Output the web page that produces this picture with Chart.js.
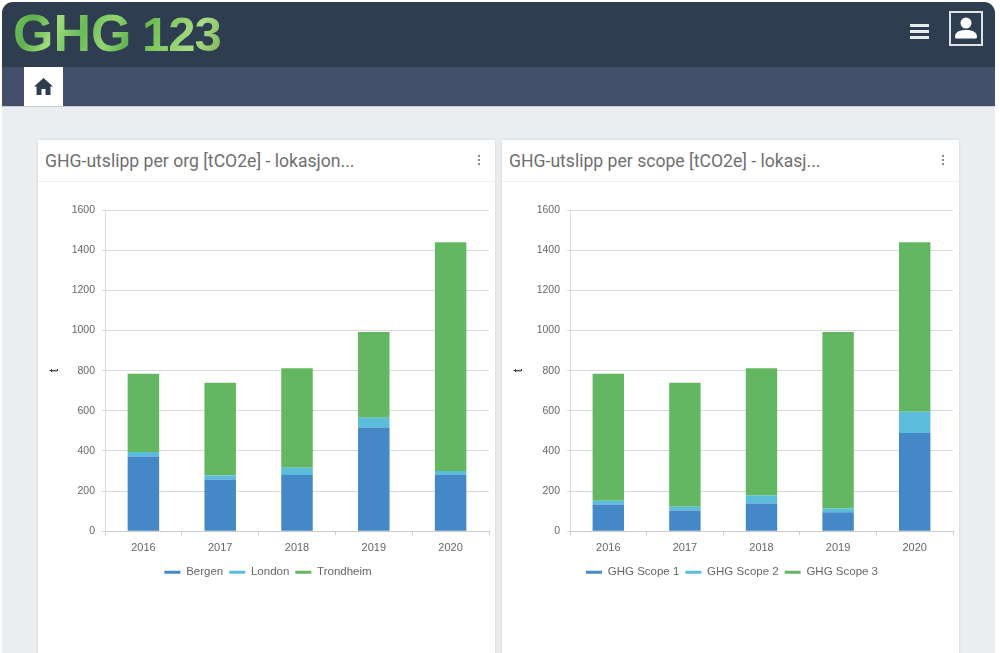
<!DOCTYPE html>
<html>
<head>
<meta charset="utf-8">
<script src="https://cdn.jsdelivr.net/npm/chart.js@4"></script>
<style>
html, body { margin: 0; padding: 0; }
body { width: 1000px; height: 653px; overflow: hidden; background: #fff; position: relative; font-family: Roboto, sans-serif; }
.page { position: absolute; left: 2px; top: 2px; width: 993px; height: 651px; background: #ebeef1; border-radius: 11px 11px 0 0; overflow: hidden; }
.topbar { position: absolute; left: 0; top: 0; width: 100%; height: 65px; background: #2e3d4f; }
.subbar { position: absolute; left: 0; top: 65px; width: 100%; height: 39px; background: #434f6b; border-bottom: 1px solid #c9cdd2; }
.logo { position: absolute; left: 11px; top: 1px; width: 215px; white-space: nowrap; font: bold 52px/60px "Liberation Sans", sans-serif; word-spacing: -4px;
  background: linear-gradient(115deg, #74c75a 0, #5fb04e 12%, #a0dc7c 22%, #68bb57 34%, #94d571 45%, #60b04f 55%, #84ca61 68%, #a9dc88 82%, #72a840 100%);
  -webkit-background-clip: text; background-clip: text; color: transparent; }
.logo span { font-size: 49px; letter-spacing: -1px; }
.tab { position: absolute; left: 22px; top: 65px; width: 39px; height: 39px; background: #fff; }
.tab svg { position: absolute; left: 10px; top: 11px; }
.burger { position: absolute; left: 908px; top: 22px; width: 19px; }
.burger div { height: 3px; background: #e8ebee; margin-bottom: 3px; }
.user { position: absolute; left: 947px; top: 9px; width: 30px; height: 31px; border: 2px solid #dfe3e6; }
.card { position: absolute; top: 138px; width: 457px; height: 520px; background: #fff; box-shadow: 0 0 3px rgba(0,0,0,.12); }
.card h3 { margin: 0; height: 42px; line-height: 43px; padding-left: 7px; font-weight: 400; font-size: 17.6px; color: #6f6f6f; border-bottom: 1px solid #eceeef; box-sizing: border-box; }
.dots { position: absolute; right: 15px; top: 15px; width: 2px; }
.dots div { width: 2px; height: 2px; background: #8a8a8a; margin-bottom: 2px; }
.chartbox { position: absolute; left: 0; top: 42px; width: 457px; height: 406px; }
</style>
</head>
<body>
<div class="page">
  <div class="topbar">
    <div class="logo">GHG <span>123</span></div>
    <div class="burger"><div></div><div></div><div></div></div>
    <div class="user">
      <svg width="30" height="31" viewBox="0 0 30 31"><circle cx="15" cy="10" r="5.5" fill="#fff"/><path d="M4 24c0-6 6-7 11-7s11 1 11 7c0 1-1 1.500-2 1.500H6c-1 0-2-.5-2-1.500z" fill="#fff"/></svg>
    </div>
  </div>
  <div class="subbar"></div>
  <div class="tab">
    <svg width="19" height="17" viewBox="0 0 19 17"><path d="M9.500 0 L19 8.500 L16.500 8.500 L16.500 17 L11.500 17 L11.500 11 L7.500 11 L7.500 17 L2.500 17 L2.500 8.500 L0 8.500 Z" fill="#2e3d4f"/></svg>
  </div>
  <div class="card" style="left:36px">
    <h3>GHG-utslipp per org [tCO2e] - lokasjon...</h3>
    <div class="dots"><div></div><div></div><div></div></div>
    <div class="chartbox"><canvas id="orgChart"></canvas></div>
  </div>
  <div class="card" style="left:500px">
    <h3>GHG-utslipp per scope [tCO2e] - lokasj...</h3>
    <div class="dots"><div></div><div></div><div></div></div>
    <div class="chartbox"><canvas id="scopeChart"></canvas></div>
  </div>
</div>
<script>
const years = ['2016', '2017', '2018', '2019', '2020'];

const bergen = [372, 258, 280, 517, 280];
const london = [23, 20, 37, 48, 20];
const trondheim = [390, 462, 495, 428, 1140];

const scope1 = [133, 103, 138, 95, 490];
const scope2 = [19, 19, 40, 18, 105];
const scope3 = [633, 618, 634, 880, 845];

const BLUE = '#4488c7';
const LIGHT = '#5bbcdc';
const GREEN = '#63b763';

function dataset(label, values, color) {
    return {
        label: label,
        data: values,
        backgroundColor: color,
        borderWidth: 0,
        barPercentage: 0.41,
        categoryPercentage: 1
    };
}

function makeChart(id, series, plotLeft) {
    new Chart(document.getElementById(id), {
        type: 'bar',
        data: { labels: years, datasets: series },
        options: {
            responsive: true,
            maintainAspectRatio: false,
            animation: false,
            layout: { padding: { top: 28, right: 6, left: 9, bottom: 0 } },
            plugins: {
                tooltip: { enabled: false },
                legend: {
                    position: 'bottom',
                    labels: {
                        boxWidth: 16,
                        boxHeight: 3,
                        padding: 6,
                        color: '#666',
                        font: { family: 'Liberation Sans', size: 11.5 }
                    }
                }
            },
            scales: {
                x: {
                    stacked: true,
                    grid: { drawOnChartArea: false, color: '#ccc', tickLength: 4 },
                    border: { color: '#ccc' },
                    ticks: { color: '#666', font: { family: 'Liberation Sans', size: 11 }, padding: 6 }
                },
                y: {
                    stacked: true,
                    min: 0,
                    max: 1600,
                    afterFit: function(scale) { scale.width = plotLeft; },
                    grid: { color: '#d9d9d9', tickLength: 3 },
                    border: { color: '#dcdcdc' },
                    title: { display: true, text: 't', color: '#111', font: { family: 'Liberation Sans', size: 12 }, padding: 0 },
                    ticks: {
                        stepSize: 200,
                        color: '#666',
                        font: { family: 'Liberation Sans', size: 10.5 },
                        padding: 7,
                        callback: function(value) { return String(value); }
                    }
                }
            }
        }
    });
}

makeChart('orgChart', [
    dataset('Bergen', bergen, BLUE),
    dataset('London', london, LIGHT),
    dataset('Trondheim', trondheim, GREEN)
], 58);

makeChart('scopeChart', [
    dataset('GHG Scope 1', scope1, BLUE),
    dataset('GHG Scope 2', scope2, LIGHT),
    dataset('GHG Scope 3', scope3, GREEN)
], 59);
</script>
</body>
</html>
